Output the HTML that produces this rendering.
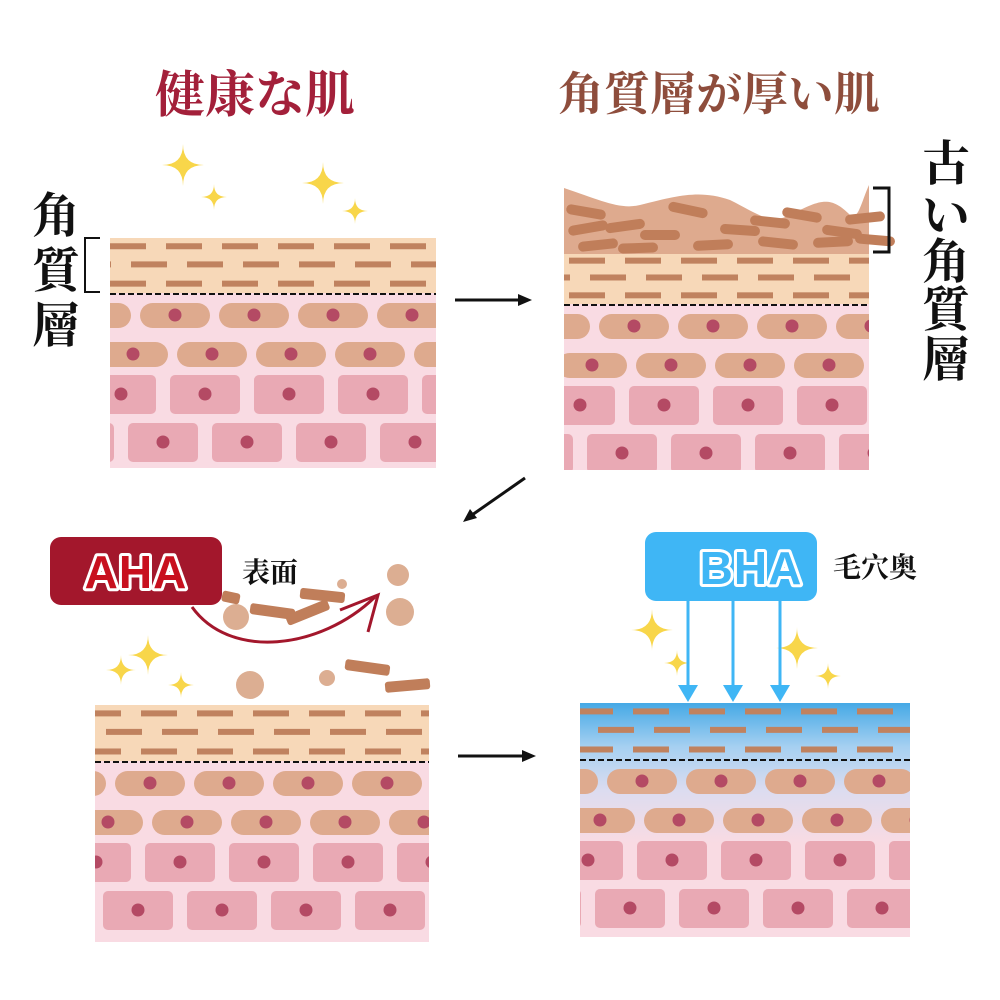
<!DOCTYPE html>
<html><head><meta charset="utf-8"><style>
body{margin:0;background:#fff;}
svg{display:block}
.t{font-family:"Liberation Serif","Noto Serif CJK SC",serif;font-weight:bold}
</style></head><body>
<svg id="s" width="1000" height="1000" viewBox="0 0 1000 1000" xmlns="http://www.w3.org/2000/svg">
<defs>
<linearGradient id="bg" x1="0" y1="0" x2="0" y2="1">
<stop offset="0" stop-color="#45a9e6"/><stop offset="0.25" stop-color="#a6d0f1"/><stop offset="0.5" stop-color="#dcdcf0"/><stop offset="0.8" stop-color="#f9dbe3"/><stop offset="1" stop-color="#f9dbe3"/>
</linearGradient>
</defs>
<g id="panels"></g>
<text class="t" x="255" y="112" font-size="50" fill="#a3203a" text-anchor="middle">健康な肌</text>
<text class="t" x="719" y="110" font-size="46" fill="#8e4d3c" text-anchor="middle">角質層が厚い肌</text>
<g class="t" font-size="48" fill="#111" text-anchor="middle">
<text x="56" y="232">角</text><text x="56" y="287">質</text><text x="56" y="342">層</text>
<text x="946" y="180">古</text><text x="946" y="232">い</text><text x="946" y="278">角</text><text x="946" y="326">質</text><text x="946" y="376">層</text>
</g>
<path d="M100,238 H85 V292 H100" fill="none" stroke="#111" stroke-width="2"/>
<path d="M873,188 H889 V252 H873" fill="none" stroke="#111" stroke-width="3"/>
<g stroke="#111" stroke-width="3" fill="#111">
<line x1="455" y1="300" x2="520" y2="300"/><path d="M532,300 L518,294 L518,306Z" stroke="none"/>
<line x1="525" y1="478" x2="472" y2="515"/><path d="M463,522 L470,509 L477,518Z" stroke="none"/>
<line x1="458" y1="756" x2="524" y2="756"/><path d="M536,756 L522,750 L522,762Z" stroke="none"/>
</g>
<g id="deco"></g>
<rect x="50" y="537" width="172" height="68" rx="11" fill="#a3172c"/>
<text x="136" y="588" font-family="Liberation Sans,sans-serif" font-weight="900" font-size="46" fill="#c8101e" stroke="#fff" stroke-width="6" stroke-linejoin="round" paint-order="stroke" text-anchor="middle" letter-spacing="1">AHA</text>
<rect x="645" y="532" width="172" height="69" rx="11" fill="#3fb6f5"/>
<text x="751" y="584" font-family="Liberation Sans,sans-serif" font-weight="900" font-size="46" fill="#3fb6f5" stroke="#fff" stroke-width="6" stroke-linejoin="round" paint-order="stroke" text-anchor="middle" letter-spacing="1">BHA</text>
<text class="t" x="242" y="582" font-size="28" fill="#111">表面</text>
<text class="t" x="833" y="577" font-size="28" fill="#111">毛穴奥</text>
</svg>
<script>
var NS="http://www.w3.org/2000/svg";
function el(p,n,a){var e=document.createElementNS(NS,n);for(var k in a)e.setAttribute(k,a[k]);p.appendChild(e);return e;}
var P=document.getElementById("panels");
function panel(x,y,w,h,top,off,blue){
 var s=el(P,"svg",{x:x,y:y,width:w,height:h,overflow:"hidden"});
 el(s,"rect",{x:0,y:0,width:w,height:h,fill:"#f9dbe3"});
 if(blue)el(s,"rect",{x:0,y:0,width:w,height:h*0.75,fill:"url(#bg)"});
 else el(s,"rect",{x:0,y:0,width:w,height:top,fill:"#f7d8b8"});
 var dy=[top*0.15,top*0.48,top*0.83];
 for(var r=0;r<3;r++){var o=(r==1)?-15:20;for(var dx=o+off;dx<w+60;dx+=56)el(s,"rect",{x:dx-20,y:dy[r]-3,width:36,height:6,fill:"#c0825f"});}
 var c1=top+22,c2=top+61,r1=top+82,r2=top+130;
 for(var i=-1;i<7;i++){var cx=i*79+30+off;el(s,"rect",{x:cx,y:c1-12,width:70,height:25,rx:12.5,fill:"#deaa8e"});el(s,"circle",{cx:cx+35,cy:c1,r:6.5,fill:"#b44a64"});}
 for(var i=-1;i<7;i++){var cx=i*79-12+off;el(s,"rect",{x:cx,y:c2-12,width:70,height:25,rx:12.5,fill:"#deaa8e"});el(s,"circle",{cx:cx+35,cy:c2,r:6.5,fill:"#b44a64"});}
 for(var i=-1;i<6;i++){var cx=i*84+60+off;el(s,"rect",{x:cx,y:r1,width:70,height:39,rx:5,fill:"#e9a9b4"});el(s,"circle",{cx:cx+35,cy:r1+19,r:6.5,fill:"#b44a64"});}
 for(var i=-1;i<6;i++){var cx=i*84+18+off;el(s,"rect",{x:cx,y:r2,width:70,height:39,rx:5,fill:"#e9a9b4"});el(s,"circle",{cx:cx+35,cy:r2+19,r:6.5,fill:"#b44a64"});}
 el(s,"line",{x1:0,y1:top+1,x2:w,y2:top+1,stroke:"#111","stroke-width":2,"stroke-dasharray":"6,3"});
 return s;
}
panel(110,238,326,230,55,0,false);
panel(564,253,305,217,51,5,false);
panel(95,705,334,237,56,-10,false);
panel(580,703,330,234,56,-3,true);
var g=el(P,"g",{});
el(g,"path",{d:"M564,188 C600,200 620,210 640,205 C680,195 700,190 730,200 C760,215 770,225 790,215 C820,200 830,195 850,215 C858,222 862,200 869,185 L869,254 L564,254Z",fill:"#deaa8e"});
var bars=[[566,212,10],[568,228,-10],[578,245,-6],[605,226,-8],[640,235,0],[668,210,12],[618,248,-2],[693,245,-3],[720,230,4],[750,222,6],[758,243,6],[782,215,10],[813,242,-3],[845,218,-6],[855,240,5],[822,232,8]];
bars.forEach(function(b){el(g,"rect",{x:b[0],y:b[1]-5,width:40,height:10,rx:5,fill:"#c07e5a",transform:"rotate("+b[2]+" "+(b[0]+20)+" "+b[1]+")"});});
var D=document.getElementById("deco");
function star(cx,cy,s){el(D,"path",{d:"M"+cx+","+(cy-s)+" Q"+cx+","+cy+" "+(cx+s)+","+cy+" Q"+cx+","+cy+" "+cx+","+(cy+s)+" Q"+cx+","+cy+" "+(cx-s)+","+cy+" Q"+cx+","+cy+" "+cx+","+(cy-s)+"Z",fill:"#f8d64a"});}
[[183,165,21],[214,197,13],[323,183,21],[355,211,13],[148,655,20],[121,670,15],[181,685,13],[652,630,21],[677,663,13],[797,648,21],[828,676,13]].forEach(function(a){star(a[0],a[1],a[2]);});
[[236,617,13],[398,575,11],[400,612,14],[342,584,5],[250,685,14],[327,678,8]].forEach(function(c){el(D,"circle",{cx:c[0],cy:c[1],r:c[2],fill:"#dcae92"});});
[[250,611,45,8],[300,595,45,6],[285,612,45,-22],[345,667,45,8],[385,685,45,-5],[222,597,18,12]].forEach(function(b){el(D,"rect",{x:b[0],y:-5,width:b[2],height:11,rx:3,fill:"#c07e5a",transform:"translate(0,"+b[1]+") rotate("+b[3]+" "+(b[0]+b[2]/2)+" 0)"});});
el(D,"path",{d:"M192,607 C230,660 320,650 375,597",fill:"none",stroke:"#a3172c","stroke-width":3});
el(D,"path",{d:"M340,610 L378,595 L368,632",fill:"none",stroke:"#a3172c","stroke-width":3});
[688,733,780].forEach(function(x){el(D,"line",{x1:x,y1:600,x2:x,y2:688,stroke:"#3fb6f5","stroke-width":3});el(D,"path",{d:"M"+(x-10)+",685 L"+(x+10)+",685 L"+x+",702Z",fill:"#3fb6f5"});});
</script>
</body></html>
